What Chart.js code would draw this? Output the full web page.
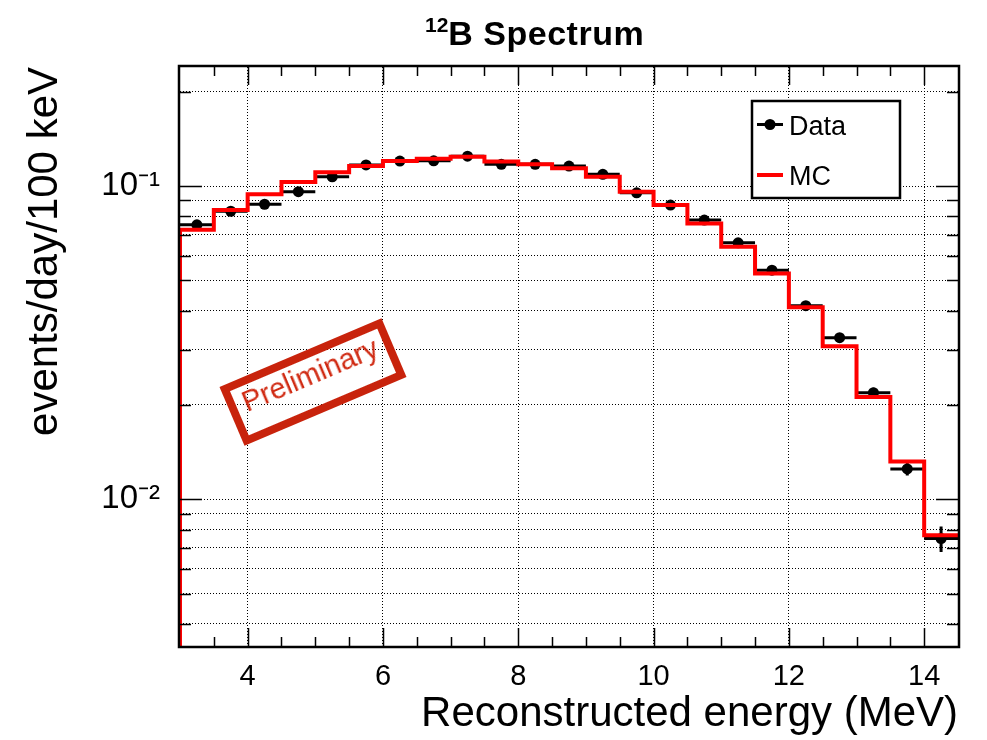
<!DOCTYPE html>
<html>
<head>
<meta charset="utf-8">
<title>12B Spectrum</title>
<script src="https://cdn.jsdelivr.net/npm/chart.js@4.4.1/dist/chart.umd.min.js"></script>
<style>
  html, body { margin: 0; padding: 0; background: #fff; }
  #wrap { position: relative; width: 987px; height: 740px; }
  #spectrum { position: absolute; left: 0; top: 0; }
  #title {
    position: absolute; left: 425px; top: 16px;
    font: bold 34px "Liberation Sans", Arial, Helvetica, sans-serif;
    line-height: 34px; letter-spacing: 0.5px; color: #000; white-space: nowrap;
  }
  #title .sup { position: relative; top: -13px; font-size: 21px; letter-spacing: 0; }
  #stamp {
    position: absolute; left: 225px; top: 350px;
    width: 160px; height: 48px; line-height: 48px;
    border: 8px solid #c8230c; text-align: center;
    font: 29px "Liberation Sans", Arial, Helvetica, sans-serif;
    color: #d02a12; transform: rotate(-23deg);
  }
</style>
</head>
<body>
<div id="wrap">
  <canvas id="spectrum" width="987" height="740"></canvas>
  <div id="title"><span class="sup">12</span>B Spectrum</div>
  <div id="stamp">Preliminary</div>
</div>
<script>
// bin centres (MeV), 0.5 MeV wide bins
const binCenters = [3.25, 3.75, 4.25, 4.75, 5.25, 5.75, 6.25, 6.75, 7.25, 7.75, 8.25, 8.75,
  9.25, 9.75, 10.25, 10.75, 11.25, 11.75, 12.25, 12.75, 13.25, 13.75, 14.25];
const binHalfWidth = 0.25;

// events/day/100 keV
const dataRate = [0.0752, 0.0831, 0.0875, 0.0960, 0.1070, 0.1168, 0.1202, 0.1204, 0.1246, 0.1173, 0.1173, 0.1158,
  0.1090, 0.0952, 0.0870, 0.0779, 0.0659, 0.0539, 0.0415, 0.0328, 0.0219, 0.0125, 0.00749];
const dataError = [0.0016, 0.0017, 0.0018, 0.0019, 0.0020, 0.0021, 0.0021, 0.0021, 0.0022, 0.0021, 0.0021, 0.0020,
  0.0019, 0.0018, 0.0017, 0.0016, 0.0015, 0.0013, 0.0011, 0.0010, 0.0008, 0.0006, 0.0007];
const mcRate = [0.0726, 0.0838, 0.0942, 0.1030, 0.1107, 0.1160, 0.1202, 0.1222, 0.1240, 0.1198, 0.1173, 0.1139,
  0.1071, 0.0959, 0.0870, 0.0760, 0.0640, 0.0526, 0.0410, 0.0308, 0.0212, 0.0132, 0.00767];

// axes
const xMin = 3, xMax = 14.5;
const yMin = 0.0034, yMax = 0.24;
const xTickValues = [4, 6, 8, 10, 12, 14];
const yTickValues = [0.004, 0.005, 0.006, 0.007, 0.008, 0.009, 0.01,
  0.02, 0.03, 0.04, 0.05, 0.06, 0.07, 0.08, 0.09, 0.1, 0.2];
const yDecadeValues = [0.01, 0.1];
const yDecadeLabels = ['10\u207B\u00B2', '10\u207B\u00B9'];

const FONT = '"Liberation Sans", Arial, Helvetica, sans-serif';
Chart.defaults.font.family = FONT;
Chart.defaults.color = '#000';

const dataPoints = binCenters.map((c, i) => ({ x: c, y: dataRate[i] }));
const last = binCenters.length - 1;
// histogram outline: rises from below the axis at the first edge, ends at the last edge
const mcSteps = [{ x: binCenters[0] - binHalfWidth, y: yMin / 10 }]
  .concat(binCenters.map((c, i) => ({ x: c - binHalfWidth, y: mcRate[i] })))
  .concat([{ x: binCenters[last] + binHalfWidth, y: mcRate[last] }]);

// x and y error bars under the data markers
const errorBars = {
  id: 'errorBars',
  beforeDatasetDraw(chart, args) {
    const ds = chart.data.datasets[args.index];
    if (!ds.errors) return;
    const { ctx, chartArea: a, scales: { x, y } } = chart;
    ctx.save();
    ctx.beginPath();
    ctx.rect(a.left, a.top, a.right - a.left, a.bottom - a.top);
    ctx.clip();
    ctx.strokeStyle = ds.borderColor;
    ctx.lineWidth = 3;
    ctx.beginPath();
    ds.data.forEach((p, i) => {
      const px = x.getPixelForValue(p.x);
      const py = y.getPixelForValue(p.y);
      ctx.moveTo(x.getPixelForValue(p.x - binHalfWidth), py);
      ctx.lineTo(x.getPixelForValue(p.x + binHalfWidth), py);
      ctx.moveTo(px, y.getPixelForValue(p.y - ds.errors[i]));
      ctx.lineTo(px, y.getPixelForValue(p.y + ds.errors[i]));
    });
    ctx.stroke();
    ctx.restore();
  }
};

// ROOT style frame with ticks inside on all four sides, and the legend box
const frameAndLegend = {
  id: 'frameAndLegend',
  afterDraw(chart) {
    const { ctx, chartArea: a, scales: { x, y } } = chart;
    ctx.save();
    ctx.strokeStyle = '#000';
    ctx.lineWidth = 1.5;
    ctx.beginPath();
    for (let v = xMin + 0.5; v < xMax; v += 0.5) {
      const px = Math.round(x.getPixelForValue(v)) + 0.5;
      const len = xTickValues.includes(v) ? 18 : 9;
      ctx.moveTo(px, a.bottom); ctx.lineTo(px, a.bottom - len);
      ctx.moveTo(px, a.top); ctx.lineTo(px, a.top + len);
    }
    yTickValues.forEach(v => {
      const py = Math.round(y.getPixelForValue(v)) + 0.5;
      const len = yDecadeValues.includes(v) ? 22 : 11;
      ctx.moveTo(a.left, py); ctx.lineTo(a.left + len, py);
      ctx.moveTo(a.right, py); ctx.lineTo(a.right - len, py);
    });
    ctx.stroke();
    ctx.lineWidth = 2.5;
    ctx.strokeRect(a.left - 1, a.top - 1, a.right - a.left + 2, a.bottom - a.top + 2);

    // legend
    const [mc, data] = chart.data.datasets;
    ctx.fillStyle = '#fff';
    ctx.fillRect(752, 101, 148, 97);
    ctx.lineWidth = 2.5;
    ctx.strokeRect(752, 101, 148, 97);
    ctx.strokeStyle = data.borderColor;
    ctx.lineWidth = 3;
    ctx.beginPath(); ctx.moveTo(757, 124.5); ctx.lineTo(783, 124.5); ctx.stroke();
    ctx.fillStyle = data.backgroundColor;
    ctx.beginPath(); ctx.arc(770, 124.5, 5.5, 0, Math.PI * 2); ctx.fill();
    ctx.strokeStyle = mc.borderColor;
    ctx.lineWidth = 4;
    ctx.beginPath(); ctx.moveTo(757, 175); ctx.lineTo(783, 175); ctx.stroke();
    ctx.fillStyle = '#000';
    ctx.font = '27px ' + FONT;
    ctx.textBaseline = 'alphabetic';
    ctx.fillText(data.label, 789, 135);
    ctx.fillText(mc.label, 789, 185);
    ctx.restore();
  }
};

new Chart(document.getElementById('spectrum'), {
  type: 'scatter',
  data: {
    datasets: [
      {
        type: 'line',
        label: 'MC',
        data: mcSteps,
        stepped: 'before',
        borderColor: '#ff0000',
        borderWidth: 4,
        pointRadius: 0,
        fill: false,
        clip: { left: 0, top: 2, right: 2, bottom: 0 },
        order: 1
      },
      {
        label: 'Data',
        data: dataPoints,
        errors: dataError,
        borderColor: '#000',
        backgroundColor: '#000',
        pointRadius: 5.5,
        pointBorderWidth: 0,
        showLine: false,
        order: 2
      }
    ]
  },
  plugins: [errorBars, frameAndLegend],
  options: {
    responsive: false,
    animation: false,
    events: [],
    layout: { padding: { top: 67, right: 29, left: 0, bottom: 0 } },
    plugins: {
      legend: { display: false },
      title: { display: false },
      tooltip: { enabled: false }
    },
    scales: {
      x: {
        type: 'linear',
        min: xMin,
        max: xMax,
        afterFit(scale) { scale.height = 94; },
        afterBuildTicks(scale) { scale.ticks = xTickValues.map(v => ({ value: v })); },
        ticks: { autoSkip: false, maxRotation: 0, padding: 14, font: { size: 29 }, color: '#000' },
        grid: { color: '#000', lineWidth: 1, drawTicks: false },
        border: { display: false, dash: [1, 2] },
        title: { display: true, text: 'Reconstructed energy (MeV)', align: 'end',
          font: { size: 42 }, padding: { top: 0, bottom: 0 }, color: '#000' }
      },
      y: {
        type: 'logarithmic',
        min: yMin,
        max: yMax,
        afterFit(scale) { scale.width = 180; },
        afterBuildTicks(scale) { scale.ticks = yTickValues.map(v => ({ value: v })); },
        ticks: {
          autoSkip: false, padding: 20, font: { size: 33 }, color: '#000',
          callback(value) {
            const k = yDecadeValues.findIndex(d => Math.abs(d - value) < 1e-9);
            return k >= 0 ? yDecadeLabels[k] : '';
          }
        },
        grid: { color: '#000', lineWidth: 1, drawTicks: false },
        border: { display: false, dash: [1, 2] },
        title: { display: true, text: 'events/day/100 keV', align: 'end',
          font: { size: 42 }, padding: { top: 20, bottom: 0 }, color: '#000' }
      }
    }
  }
});
</script>
</body>
</html>
